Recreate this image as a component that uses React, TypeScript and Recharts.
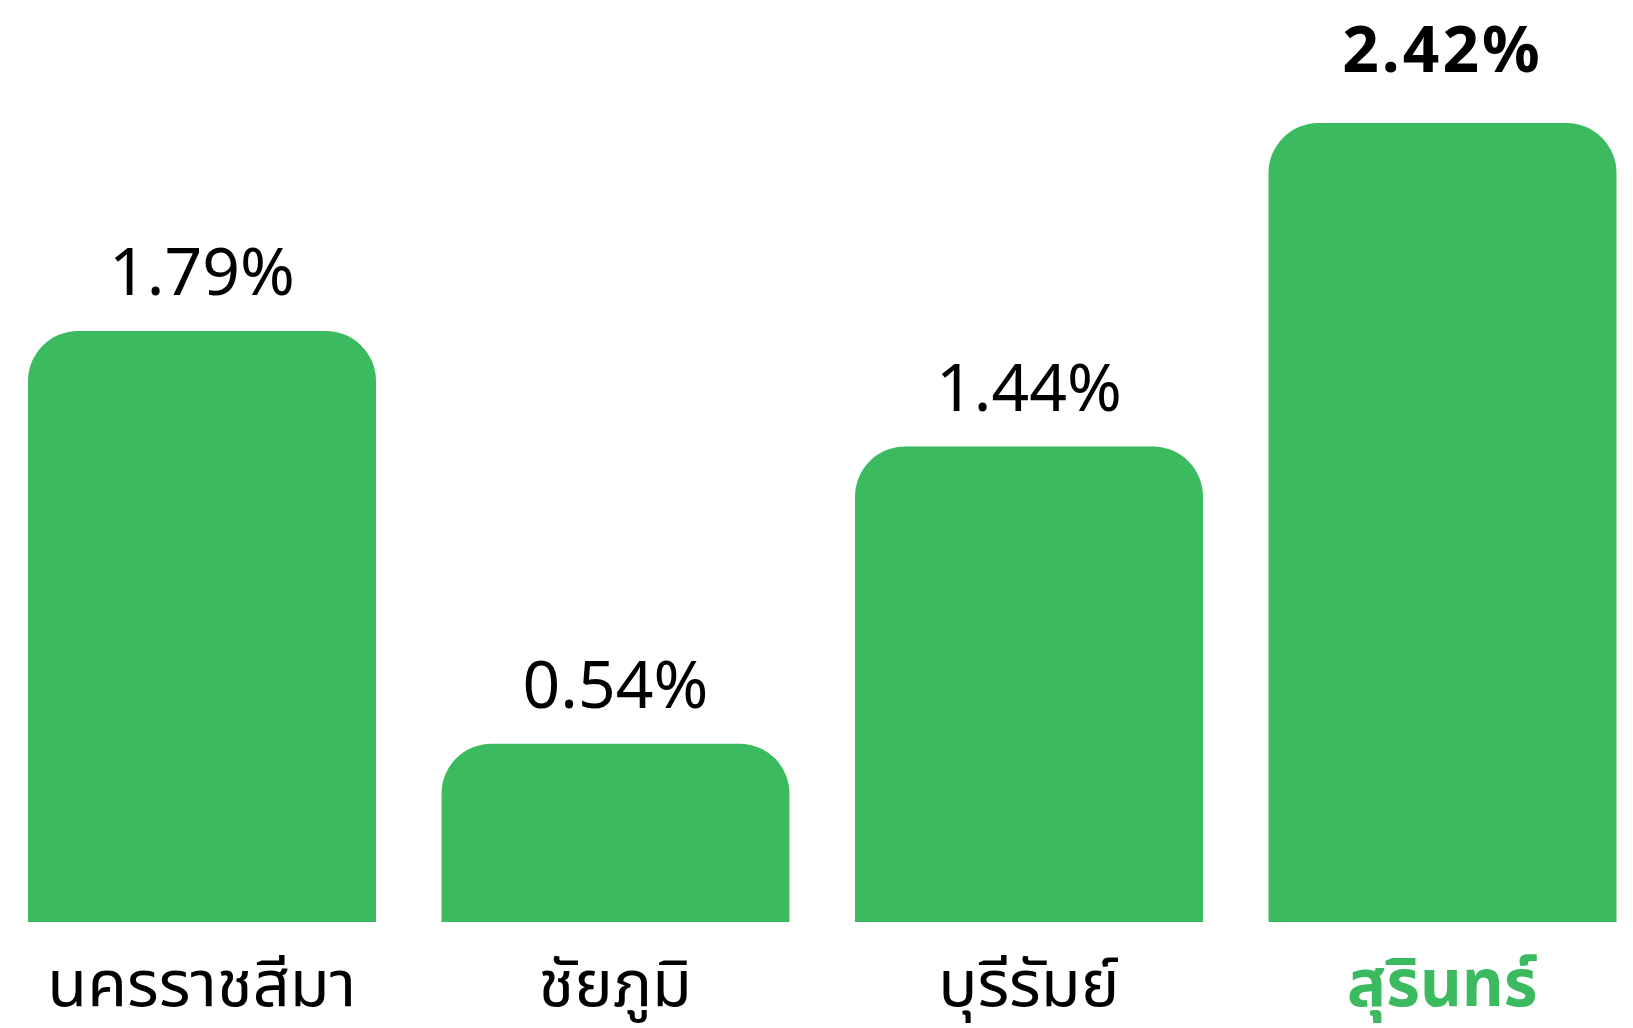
import React from 'react'
import { BarChart, Bar, XAxis, YAxis, LabelList } from 'recharts'

const provinces = ['นครราชสีมา', 'ชัยภูมิ', 'บุรีรัมย์', 'สุรินทร์']
const shares = [1.79, 0.54, 1.44, 2.42]
const highlighted = 'สุรินทร์'

const GREEN = '#3cba5f'

const data = provinces.map((name, i) => ({ name, value: shares[i] }))

const ValueLabel = (props: any) => {
  const { x, y, width, value, index } = props
  const isHot = provinces[index] === highlighted
  return (
    <text
      x={x + width / 2}
      y={y - (isHot ? 51 : 36)}
      textAnchor="middle"
      fontFamily="'Noto Sans', sans-serif"
      fontSize={isHot ? 64 : 66}
      fontWeight={isHot ? 700 : 400}
      letterSpacing={isHot ? 3 : 0}
      fill="#000"
    >
      {`${value.toFixed(2)}%`}
    </text>
  )
}

const ProvinceTick = (props: any) => {
  const { x, y, payload } = props
  const isHot = payload.value === highlighted
  return (
    <text
      x={x}
      y={y + 76}
      textAnchor="middle"
      fontFamily="'Noto Sans', 'Noto Sans Thai', sans-serif"
      fontSize={65}
      fontWeight={isHot ? 700 : 400}
      fill={isHot ? GREEN : '#000'}
    >
      {payload.value}
    </text>
  )
}

export default function App() {
  return (
    <div
      style={{
        position: 'absolute',
        top: 0,
        left: 0,
        width: 1633,
        height: 1028,
        overflow: 'hidden',
        background: '#fff',
      }}
    >
      <div style={{ position: 'absolute', top: 0, left: -5 }}>
        <BarChart
          width={1654}
          height={1028}
          data={data}
          margin={{ top: 123, right: 0, left: 0, bottom: 0 }}
          barCategoryGap={33}
        >
          <YAxis hide domain={[0, 'dataMax']} />
          <XAxis
            dataKey="name"
            height={106}
            axisLine={false}
            tickLine={false}
            interval={0}
            tick={<ProvinceTick />}
          />
          <Bar
            dataKey="value"
            fill={GREEN}
            radius={[50, 50, 0, 0]}
            isAnimationActive={false}
          >
            <LabelList dataKey="value" content={<ValueLabel />} />
          </Bar>
        </BarChart>
      </div>
    </div>
  )
}
